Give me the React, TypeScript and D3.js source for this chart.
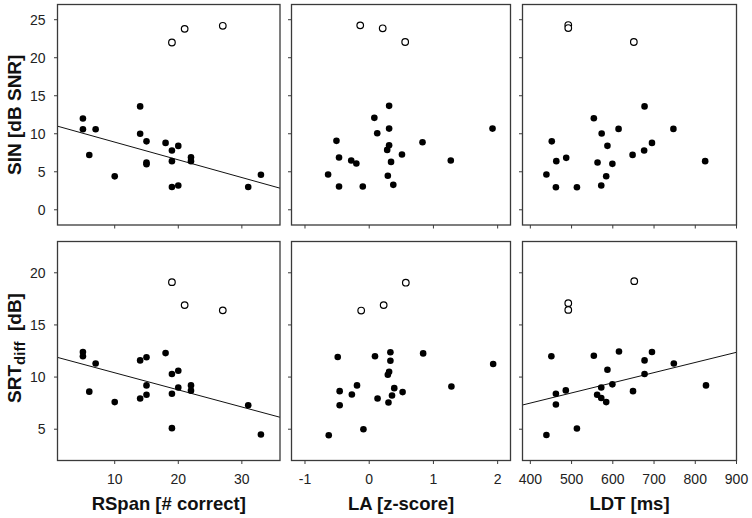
import React from "react";
import * as d3 from "d3";

// ---------- DATA ----------
const rspanX = [5, 5, 7, 6, 10, 14, 14, 15, 15, 15, 18, 19, 19, 19, 20, 20, 22, 22, 31, 33];
const sinByRspan = [12.0, 10.6, 10.6, 7.2, 4.4, 13.6, 10.0, 9.0, 6.2, 6.0, 8.8, 7.8, 6.4, 3.0, 8.4, 3.2, 6.9, 6.4, 3.0, 4.6];
const srtByRspan = [12.4, 12.0, 11.3, 8.6, 7.6, 11.6, 7.95, 11.9, 9.2, 8.3, 12.3, 10.3, 8.4, 5.1, 10.6, 9.0, 9.2, 8.7, 7.3, 4.5];
const rspanOutX = [19, 21, 27];
const sinOutRspan = [22.0, 23.8, 24.2];
const srtOutRspan = [19.1, 16.9, 16.4];

const laTopX = [-0.64, -0.51, -0.47, -0.47, -0.28, -0.2, -0.1, 0.08, 0.125, 0.29, 0.28, 0.31, 0.31, 0.31, 0.34, 0.375, 0.51, 0.83, 1.27, 1.92];
const sinByLa = [4.64, 9.07, 6.87, 3.06, 6.48, 6.08, 3.06, 12.09, 10.07, 4.47, 7.88, 8.49, 13.67, 10.68, 6.3, 3.28, 7.27, 8.89, 6.48, 10.68];
const laTopOutX = [-0.14, 0.21, 0.56];
const sinOutLa = [24.26, 23.87, 22.07];

const laBotX = [-0.63, -0.49, -0.46, -0.46, -0.27, -0.19, -0.09, 0.09, 0.13, 0.3, 0.29, 0.31, 0.33, 0.33, 0.355, 0.39, 0.52, 0.84, 1.28, 1.93];
const srtByLa = [4.42, 11.92, 8.65, 7.3, 8.33, 9.2, 5.0, 11.99, 7.95, 7.56, 10.22, 10.51, 12.38, 11.57, 8.24, 8.94, 8.56, 12.27, 9.1, 11.25];
const laBotOutX = [-0.125, 0.225, 0.57];
const srtOutLa = [16.38, 16.9, 19.05];

const ldtTopX = [439, 452, 463, 462, 487, 513, 554, 563, 573, 572, 584, 587, 599, 614, 648, 677, 676, 695, 747, 824];
const sinByLdt = [4.64, 9.0, 6.4, 2.97, 6.83, 2.97, 12.04, 6.22, 10.03, 3.19, 4.42, 8.41, 6.04, 10.64, 7.22, 13.6, 7.79, 8.8, 10.64, 6.4];
const ldtTopOutX = [492, 492, 651];
const sinOutLdt = [24.3, 23.9, 22.07];

const ldtBotX = [439, 451, 462, 462, 486, 513, 554, 562, 572, 572, 584, 587, 599, 615, 649, 677, 677, 695, 748, 826];
const srtByLdt = [4.45, 11.99, 8.4, 7.37, 8.72, 5.07, 12.05, 8.3, 9.0, 8.0, 7.6, 10.7, 9.3, 12.45, 8.65, 10.3, 11.6, 12.4, 11.3, 9.2];
const ldtBotOutX = [492, 492, 652];
const srtOutLdt = [17.09, 16.44, 19.2];

// regression fits [intercept, slope]
const fitSinRspan = [11.23, -0.233];
const fitSrtRspan = [12.05, -0.164];
const fitSrtLdt = [3.61, 0.00974];

const rspanTicks = [10, 20, 30];
const laTicks = [-1, 0, 1, 2];
const ldtTicks = [400, 500, 600, 700, 800, 900];
const sinTicks = [0, 5, 10, 15, 20, 25];
const srtTicks = [5, 10, 15, 20];

// ---------- LAYOUT ----------
const FONT = "'Liberation Sans', Arial, Helvetica, sans-serif";
const cols = [
  { x0: 57.5, x1: 280, domain: [1, 36], ticks: rspanTicks, title: "RSpan [# correct]" },
  { x0: 291.5, x1: 510.5, domain: [-1.21, 2.2], ticks: laTicks, title: "LA [z-score]" },
  { x0: 522.5, x1: 736.5, domain: [381, 900], ticks: ldtTicks, title: "LDT [ms]" },
];
const rows = [
  { y0: 4.5, y1: 225, domain: [-2, 27], ticks: sinTicks },
  { y0: 241.5, y1: 460.5, domain: [2, 23], ticks: srtTicks },
];

type Panel = {
  r: number;
  c: number;
  x: number[];
  y: number[];
  ox: number[];
  oy: number[];
  fit?: number[];
};

const panels: Panel[] = [
  { r: 0, c: 0, x: rspanX, y: sinByRspan, ox: rspanOutX, oy: sinOutRspan, fit: fitSinRspan },
  { r: 0, c: 1, x: laTopX, y: sinByLa, ox: laTopOutX, oy: sinOutLa },
  { r: 0, c: 2, x: ldtTopX, y: sinByLdt, ox: ldtTopOutX, oy: sinOutLdt },
  { r: 1, c: 0, x: rspanX, y: srtByRspan, ox: rspanOutX, oy: srtOutRspan, fit: fitSrtRspan },
  { r: 1, c: 1, x: laBotX, y: srtByLa, ox: laBotOutX, oy: srtOutLa },
  { r: 1, c: 2, x: ldtBotX, y: srtByLdt, ox: ldtBotOutX, oy: srtOutLdt, fit: fitSrtLdt },
];

const FRAME = "#3a3a3a";
const TICK_COLOR = "#222";

function PanelView({ p }: { p: Panel }) {
  const col = cols[p.c];
  const row = rows[p.r];
  const xs = d3.scaleLinear().domain(col.domain).range([col.x0, col.x1]);
  const ys = d3.scaleLinear().domain(row.domain).range([row.y1, row.y0]);
  const clipId = `clip-${p.r}-${p.c}`;
  let fitPath: string | null = null;
  if (p.fit) {
    const [a, b] = p.fit;
    const line = d3
      .line<number>()
      .x((v) => xs(v))
      .y((v) => ys(a + b * v));
    fitPath = line(col.domain as number[]);
  }
  return (
    <g>
      <defs>
        <clipPath id={clipId}>
          <rect x={col.x0} y={row.y0} width={col.x1 - col.x0} height={row.y1 - row.y0} />
        </clipPath>
      </defs>
      {/* x ticks */}
      {col.ticks.map((t) => (
        <g key={"xt" + t}>
          <line x1={xs(t)} x2={xs(t)} y1={row.y1} y2={row.y1 + 3.5} stroke={FRAME} strokeWidth={1} />
          {p.r === 1 && (
            <text x={xs(t)} y={row.y1 + 23} textAnchor="middle" fontSize={14} fontFamily={FONT} fill={TICK_COLOR}>
              {t}
            </text>
          )}
        </g>
      ))}
      {/* y ticks */}
      {row.ticks.map((t) => (
        <g key={"yt" + t}>
          <line x1={col.x0 - 3.5} x2={col.x0} y1={ys(t)} y2={ys(t)} stroke={FRAME} strokeWidth={1} />
          {p.c === 0 && (
            <text x={col.x0 - 12} y={ys(t)} dy="0.36em" textAnchor="end" fontSize={14} fontFamily={FONT} fill={TICK_COLOR}>
              {t}
            </text>
          )}
        </g>
      ))}
      <g clipPath={`url(#${clipId})`}>
        {fitPath && <path d={fitPath} fill="none" stroke="#111" strokeWidth={1} />}
        {p.x.map((v, i) => (
          <circle key={"f" + i} cx={xs(v)} cy={ys(p.y[i])} r={3.3} fill="#000" />
        ))}
        {p.ox.map((v, i) => (
          <circle key={"o" + i} cx={xs(v)} cy={ys(p.oy[i])} r={3.3} fill="#fff" stroke="#000" strokeWidth={1.2} />
        ))}
      </g>
      <rect
        x={col.x0}
        y={row.y0}
        width={col.x1 - col.x0}
        height={row.y1 - row.y0}
        fill="none"
        stroke={FRAME}
        strokeWidth={1.3}
      />
    </g>
  );
}

export default function App() {
  const W = 752;
  const H = 518;
  return (
    <div style={{ position: "fixed", left: 0, top: 0 }}>
      <svg width={W} height={H} viewBox={`0 0 ${W} ${H}`} style={{ display: "block", background: "#fff" }}>
        <rect x={0} y={0} width={W} height={H} fill="#fff" />
        {panels.map((p) => (
          <PanelView key={`${p.r}-${p.c}`} p={p} />
        ))}
        {cols.map((c) => (
          <text
            key={c.title}
            x={(c.x0 + c.x1) / 2}
            y={510}
            textAnchor="middle"
            fontSize={18.5}
            fontWeight="bold"
            fontFamily={FONT}
            fill="#111"
          >
            {c.title}
          </text>
        ))}
        <text
          transform={`translate(21,${(rows[0].y0 + rows[0].y1) / 2}) rotate(-90)`}
          textAnchor="middle"
          fontSize={19}
          fontWeight="bold"
          fontFamily={FONT}
          fill="#111"
        >
          SIN [dB SNR]
        </text>
        <text
          transform={`translate(21,${(rows[1].y0 + rows[1].y1) / 2 - 3}) rotate(-90)`}
          textAnchor="middle"
          fontSize={19}
          fontWeight="bold"
          fontFamily={FONT}
          fill="#111"
          style={{ whiteSpace: "pre" }}
        >
          <tspan>SRT</tspan>
          <tspan dy={4} fontSize={15}>diff</tspan>
          <tspan dy={-4}>{"  [dB]"}</tspan>
        </text>
      </svg>
    </div>
  );
}
